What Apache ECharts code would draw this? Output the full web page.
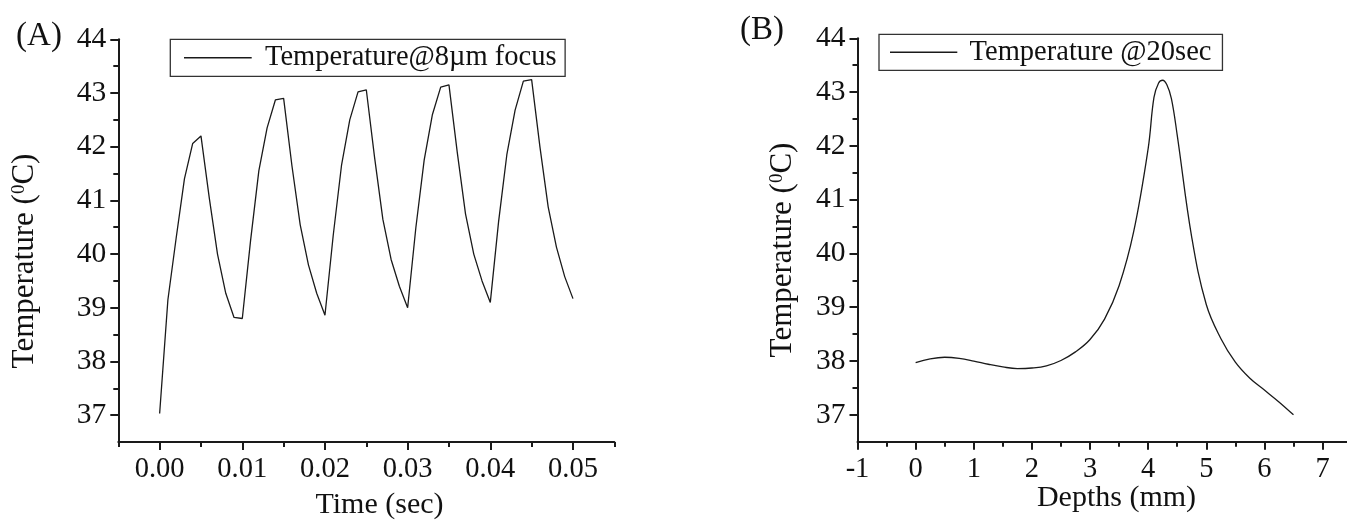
<!DOCTYPE html>
<html>
<head>
<meta charset="utf-8">
<script src="https://cdn.jsdelivr.net/npm/echarts@6/dist/echarts.min.js"></script>
<style>
html,body{margin:0;padding:0;background:#fff;}
#c{width:1347px;height:520px;}
</style>
</head>
<body>
<div id="c"></div>
<script>
// ---------- Data (A): temperature vs time at 8 µm focus ----------
const timeA = [0.000,0.001,0.002,0.003,0.004,0.005,0.006,0.007,0.008,0.009,
               0.010,0.011,0.012,0.013,0.014,0.015,0.016,0.017,0.018,0.019,
               0.020,0.021,0.022,0.023,0.024,0.025,0.026,0.027,0.028,0.029,
               0.030,0.031,0.032,0.033,0.034,0.035,0.036,0.037,0.038,0.039,
               0.040,0.041,0.042,0.043,0.044,0.045,0.046,0.047,0.048,0.049,0.050];
const tempA = [37.03,39.15,40.30,41.40,42.06,42.20,41.05,40.00,39.27,38.82,
               38.80,40.25,41.55,42.35,42.87,42.90,41.65,40.55,39.80,39.27,
               38.86,40.35,41.65,42.50,43.02,43.06,41.80,40.65,39.90,39.40,
               39.00,40.50,41.75,42.60,43.11,43.15,41.90,40.75,40.00,39.50,
               39.10,40.60,41.85,42.68,43.22,43.25,42.00,40.88,40.13,39.58,39.17];

// ---------- Data (B): temperature vs depth at 20 sec ----------
const depthB = [0.00,0.25,0.50,0.75,1.00,1.25,1.50,1.75,2.00,2.25,2.50,2.75,3.00,3.25,3.50,3.75,
                4.00,4.10,4.18,4.25,4.32,4.40,4.50,4.75,5.00,5.25,5.50,5.75,6.00,6.25,6.50];
const tempB  = [37.97,38.04,38.07,38.05,38.00,37.94,37.89,37.86,37.87,37.91,38.01,38.17,38.40,38.78,39.40,40.40,
                41.95,42.90,43.17,43.22,43.14,42.88,42.20,40.30,39.05,38.42,37.98,37.68,37.46,37.24,37.00];

// ---------- Tick values ----------
const yMajor  = [37,38,39,40,41,42,43,44];
const yMinor  = [37.5,38.5,39.5,40.5,41.5,42.5,43.5];
const xMajorA = [0.00,0.01,0.02,0.03,0.04,0.05];
const xMinorA = [-0.005,0.005,0.015,0.025,0.035,0.045,0.055];
const xMajorB = [-1,0,1,2,3,4,5,6,7];
const xMinorB = [-0.5,0.5,1.5,2.5,3.5,4.5,5.5,6.5,7.5];

const nameA = 'Temperature@8µm focus';
const nameB = 'Temperature @20sec';

const FF = '"Liberation Serif","Times New Roman",serif';
const INK = '#111';
const AX = '#1a1a1a';

function majorX(grid, min, max, vals, fmt) {
  return {gridIndex: grid, type: 'value', position: 'bottom', min: min, max: max,
    axisLine: {show: true, onZero: false, lineStyle: {color: AX, width: 2}},
    axisTick: {show: true, inside: false, length: 8, customValues: vals, lineStyle: {color: AX, width: 2}},
    axisLabel: {show: true, customValues: vals, margin: 13, fontSize: 28.5, fontFamily: FF, color: INK, formatter: fmt},
    splitLine: {show: false}};
}
function minorX(grid, min, max, vals) {
  return {gridIndex: grid, type: 'value', position: 'bottom', min: min, max: max,
    axisLine: {show: false, onZero: false},
    axisTick: {show: true, inside: false, length: 5, customValues: vals, lineStyle: {color: AX, width: 2}},
    axisLabel: {show: false}, splitLine: {show: false}};
}
function majorY(grid) {
  return {gridIndex: grid, type: 'value', position: 'left', min: 36.5, max: 44,
    axisLine: {show: true, onZero: false, lineStyle: {color: AX, width: 2}},
    axisTick: {show: true, inside: false, length: 8, customValues: yMajor, lineStyle: {color: AX, width: 2}},
    axisLabel: {show: true, customValues: yMajor, margin: 12, fontSize: 29.5, fontFamily: FF, color: INK},
    splitLine: {show: false}};
}
function minorY(grid) {
  return {gridIndex: grid, type: 'value', position: 'left', min: 36.5, max: 44,
    axisLine: {show: false, onZero: false},
    axisTick: {show: true, inside: false, length: 5, customValues: yMinor, lineStyle: {color: AX, width: 2}},
    axisLabel: {show: false}, splitLine: {show: false}};
}

const chart = echarts.init(document.getElementById('c'), null, {renderer: 'canvas'});
const option = {
  animation: false,
  backgroundColor: '#fff',
  textStyle: {fontFamily: FF, color: INK},
  grid: [
    {left: 118.3, top: 39.3, width: 496, height: 402.7, containLabel: false, outerBoundsMode: 'none'},
    {left: 857.5, top: 38.3, width: 494.1, height: 403.4, containLabel: false, outerBoundsMode: 'none'}
  ],
  xAxis: [
    majorX(0, -0.005, 0.055, xMajorA, v => v.toFixed(2)),
    minorX(0, -0.005, 0.055, xMinorA),
    majorX(1, -1, 7.5, xMajorB, v => String(v)),
    minorX(1, -1, 7.5, xMinorB)
  ],
  yAxis: [majorY(0), minorY(0), majorY(1), minorY(1)],
  legend: [
    {data: [{name: nameA, icon: 'rect'}], left: 170.3, top: 39.3, orient: 'horizontal',
     itemWidth: 67.7, itemHeight: 1.4, padding: [4, 8.6, 4, 13.7],
     borderColor: '#333', borderWidth: 1.3, selectedMode: false,
     itemStyle: {color: '#1a1a1a', borderWidth: 0},
     textStyle: {fontSize: 28.5, fontFamily: FF, color: INK, padding: [0, 0, 0, 8.3]}},
    {data: [{name: nameB, icon: 'rect'}], left: 879, top: 34.3, orient: 'horizontal',
     itemWidth: 67.3, itemHeight: 1.4, padding: [3.5, 11, 3.5, 11],
     borderColor: '#333', borderWidth: 1.3, selectedMode: false,
     itemStyle: {color: '#1a1a1a', borderWidth: 0},
     textStyle: {fontSize: 28.5, fontFamily: FF, color: INK, padding: [0, 0, 0, 7.3]}}
  ],
  series: [
    {name: nameA, type: 'line', xAxisIndex: 0, yAxisIndex: 0, symbol: 'none',
     lineStyle: {color: '#1a1a1a', width: 1.3}, itemStyle: {color: '#1a1a1a'},
     data: timeA.map((t, i) => [t, tempA[i]])},
    {name: nameB, type: 'line', xAxisIndex: 2, yAxisIndex: 2, symbol: 'none', smooth: 0.4,
     lineStyle: {color: '#1a1a1a', width: 1.3}, itemStyle: {color: '#1a1a1a'},
     data: depthB.map((d, i) => [d, tempB[i]])}
  ],
  graphic: [
    {type: 'text', x: 39, y: 36, style: {text: '(A)', fontSize: 33, fontFamily: FF, fill: INK, align: 'center', verticalAlign: 'middle'}},
    {type: 'text', x: 762, y: 30, style: {text: '(B)', fontSize: 33, fontFamily: FF, fill: INK, align: 'center', verticalAlign: 'middle'}},
    {type: 'text', x: 379.5, y: 505, style: {text: 'Time (sec)', fontSize: 30, fontFamily: FF, fill: INK, align: 'center', verticalAlign: 'middle'}},
    {type: 'text', x: 1116.5, y: 498.5, style: {text: 'Depths (mm)', fontSize: 30, fontFamily: FF, fill: INK, align: 'center', verticalAlign: 'middle'}},
    {type: 'text', x: 25, y: 261, rotation: Math.PI / 2,
     style: {text: 'Temperature ({s|0}C)', fontSize: 31, fontFamily: FF, fill: INK, align: 'center', verticalAlign: 'middle', lineHeight: 31,
             rich: {s: {fontSize: 19, fontFamily: FF, fill: INK, lineHeight: 16, verticalAlign: 'top'}}}},
    {type: 'text', x: 783, y: 250, rotation: Math.PI / 2,
     style: {text: 'Temperature ({s|0}C)', fontSize: 31, fontFamily: FF, fill: INK, align: 'center', verticalAlign: 'middle', lineHeight: 31,
             rich: {s: {fontSize: 19, fontFamily: FF, fill: INK, lineHeight: 16, verticalAlign: 'top'}}}}
  ]
};
chart.setOption(option);
</script>
</body>
</html>
